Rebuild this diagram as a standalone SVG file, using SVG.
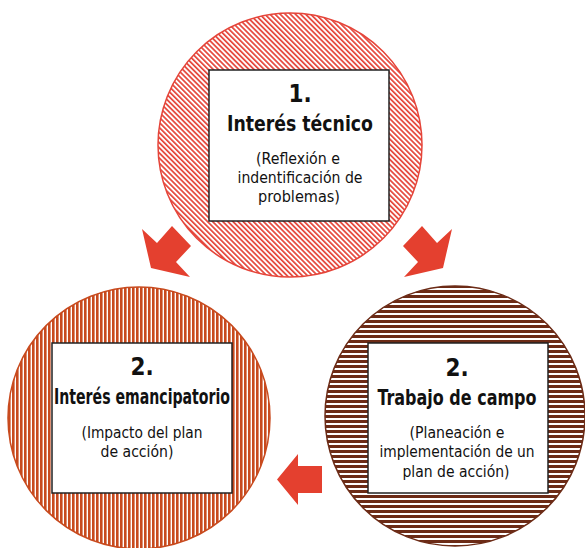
<svg xmlns="http://www.w3.org/2000/svg" width="585" height="548" viewBox="0 0 585 548">
  <defs>
    <pattern id="diag" patternUnits="userSpaceOnUse" width="3.6" height="10" patternTransform="rotate(-45)">
      <rect x="0" y="0" width="3.6" height="10" fill="#ffffff"/>
      <rect x="0" y="0" width="1.7" height="10" fill="#e5453a"/>
    </pattern>
    <pattern id="vert" patternUnits="userSpaceOnUse" width="4" height="10">
      <rect x="0" y="0" width="4" height="10" fill="#ffffff"/>
      <rect x="0" y="0" width="2.6" height="10" fill="#c84a1e"/>
    </pattern>
    <pattern id="horz" patternUnits="userSpaceOnUse" width="10" height="5">
      <rect x="0" y="0" width="10" height="5" fill="#ffffff"/>
      <rect x="0" y="0" width="10" height="3" fill="#6c2b16"/>
    </pattern>
  </defs>
  <style>
    .box { fill: #ffffff; stroke: #222222; stroke-width: 1.5; }
    .t { font-family: 'DejaVu Sans Condensed', 'DejaVu Sans', sans-serif; font-stretch: condensed; fill: #111111; text-anchor: middle; }
    .num { font-size: 24px; font-weight: bold; }
    .title { font-size: 21px; font-weight: bold; }
    .sub { font-size: 16.5px; }
    .arrow { fill: #e4402f; }
  </style>

  <g id="connectors">
    <polygon class="arrow" points="142,229 157,243 172,226 191,246 176,262 190,277 151,268"/>
    <polygon class="arrow" points="452,229 437,243 422,226 403,246 418,262 404,277 443,268"/>
    <polygon class="arrow" points="277,479.5 298,454 298,466 322,466 322,493 298,493 298,505"/>
  </g>

  <g id="node-tecnico">
    <circle cx="290" cy="145" r="132" fill="url(#diag)" stroke="#e5453a" stroke-width="1.5"/>
    <rect class="box" x="209" y="70" width="180" height="151"/>
    <text class="t num" x="300" y="102">1.</text>
    <text class="t title" x="300" y="131" textLength="146" lengthAdjust="spacingAndGlyphs">Interés técnico</text>
    <text class="t sub" x="298" y="164" textLength="84" lengthAdjust="spacingAndGlyphs">(Reflexión e</text>
    <text class="t sub" x="300" y="183" textLength="125" lengthAdjust="spacingAndGlyphs">indentificación de</text>
    <text class="t sub" x="299" y="202" textLength="82" lengthAdjust="spacingAndGlyphs">problemas)</text>
  </g>

  <g id="node-emancipatorio">
    <circle cx="139" cy="418" r="131" fill="url(#vert)" stroke="#c84a1e" stroke-width="1.5"/>
    <rect class="box" x="52" y="343" width="180" height="150"/>
    <text class="t num" x="142" y="375">2.</text>
    <text class="t title" x="142" y="404" textLength="176" lengthAdjust="spacingAndGlyphs">Interés emancipatorio</text>
    <text class="t sub" x="142" y="438" textLength="121" lengthAdjust="spacingAndGlyphs">(Impacto del plan</text>
    <text class="t sub" x="137" y="457" textLength="73" lengthAdjust="spacingAndGlyphs">de acción)</text>
  </g>

  <g id="node-campo">
    <circle cx="455" cy="416" r="130" fill="url(#horz)" stroke="#6c2b16" stroke-width="1.5"/>
    <rect class="box" x="368" y="343" width="180" height="150"/>
    <text class="t num" x="457" y="376">2.</text>
    <text class="t title" x="457" y="405" textLength="159" lengthAdjust="spacingAndGlyphs">Trabajo de campo</text>
    <text class="t sub" x="457" y="438" textLength="95" lengthAdjust="spacingAndGlyphs">(Planeación e</text>
    <text class="t sub" x="457" y="457" textLength="155" lengthAdjust="spacingAndGlyphs">implementación de un</text>
    <text class="t sub" x="456" y="477" textLength="107" lengthAdjust="spacingAndGlyphs">plan de acción)</text>
  </g>
</svg>
